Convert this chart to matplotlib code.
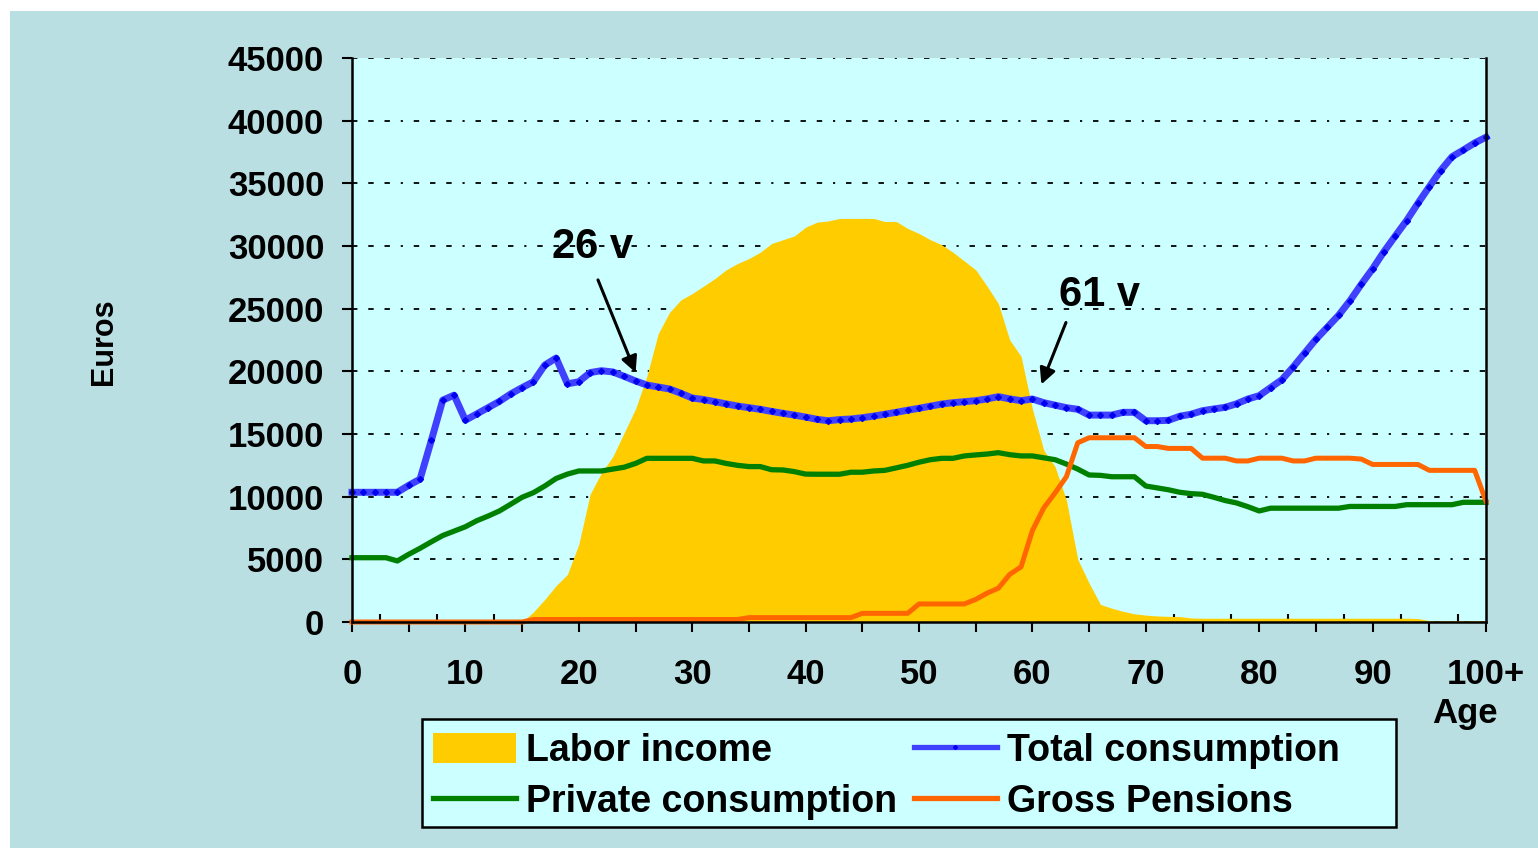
import matplotlib
matplotlib.use('Agg')
import matplotlib.pyplot as plt
import matplotlib.ticker as ticker
import numpy as np
from matplotlib.patches import Rectangle, Patch
from matplotlib.lines import Line2D

# age 0..100 (100 = "100+")
age = np.arange(101)

labor_income = [0, 0, 0, 0, 0, 0, 0, 0, 0, 0,
                0, 0, 0, 0, 0, 0, 800, 1800, 2900, 3800,
                6200, 10200, 11900, 13200, 15100, 17000, 19600, 23000, 24700, 25700,
                26200, 26800, 27400, 28100, 28600, 29000, 29500, 30200, 30500, 30800,
                31500, 31900, 32000, 32200, 32200, 32200, 32200, 31950, 31950, 31400,
                31000, 30500, 30100, 29500, 28800, 28100, 26800, 25400, 22500, 21200,
                17000, 13700, 12400, 9700, 5000, 3100, 1400, 1100, 850, 650,
                550, 480, 450, 430, 320, 300, 300, 300, 300, 300,
                300, 300, 300, 300, 300, 300, 300, 300, 300, 300,
                300, 300, 300, 300, 280, 100, 100, 100, 100, 100, 100]

private_cons = [5130, 5130, 5130, 5130, 4870, 5400, 5880, 6400, 6900, 7250,
                7600, 8080, 8450, 8860, 9400, 9950, 10320, 10850, 11450, 11800,
                12050, 12050, 12050, 12200, 12350, 12650, 13060, 13060, 13060, 13060,
                13060, 12850, 12850, 12650, 12500, 12400, 12400, 12150, 12130, 12000,
                11800, 11790, 11790, 11790, 11950, 11950, 12050, 12100, 12300, 12500,
                12750, 12950, 13060, 13060, 13250, 13330, 13400, 13510, 13350, 13250,
                13250, 13100, 12950, 12600, 12200, 11730, 11700, 11590, 11590, 11590,
                10850, 10700, 10550, 10350, 10240, 10190, 9950, 9690, 9500, 9200,
                8860, 9080, 9080, 9080, 9080, 9080, 9080, 9080, 9220, 9220,
                9220, 9220, 9220, 9360, 9360, 9360, 9360, 9360, 9550, 9550, 9550]

total_cons = [10350, 10350, 10350, 10350, 10350, 10900, 11400, 14500, 17700, 18100,
              16100, 16600, 17100, 17600, 18200, 18700, 19170, 20500, 21060, 19000,
              19170, 19900, 20050, 19950, 19600, 19230, 18910, 18750, 18590, 18250,
              17870, 17750, 17580, 17400, 17230, 17100, 16970, 16800, 16650, 16510,
              16350, 16170, 16060, 16150, 16200, 16300, 16430, 16580, 16730, 16900,
              17050, 17220, 17390, 17500, 17580, 17660, 17800, 17980, 17800, 17660,
              17790, 17500, 17300, 17100, 16970, 16510, 16510, 16510, 16730, 16730,
              16060, 16060, 16090, 16420, 16580, 16860, 17000, 17130, 17410, 17790,
              18060, 18700, 19330, 20350, 21450, 22550, 23510, 24470, 25630, 26940,
              28180, 29550, 30800, 32030, 33410, 34730, 36020, 37120, 37660, 38220, 38680]

gross_pensions = [0, 0, 0, 0, 0, 0, 0, 0, 0, 0,
                  0, 0, 0, 0, 0, 0, 200, 200, 200, 200,
                  200, 200, 200, 200, 200, 200, 200, 200, 200, 200,
                  200, 200, 200, 200, 200, 350, 350, 350, 350, 350,
                  350, 350, 350, 350, 350, 690, 690, 690, 690, 690,
                  1440, 1440, 1440, 1440, 1440, 1800, 2300, 2700, 3800, 4400,
                  7300, 9100, 10300, 11600, 14300, 14700, 14700, 14700, 14700, 14700,
                  14000, 14000, 13850, 13850, 13850, 13070, 13070, 13070, 12850, 12850,
                  13070, 13070, 13070, 12850, 12850, 13070, 13070, 13070, 13070, 13000,
                  12570, 12570, 12570, 12570, 12570, 12100, 12100, 12100, 12100, 12100, 9630]

xticklabels = ['0', '10', '20', '30', '40', '50', '60', '70', '80', '90', '100+']

W, H = 1538, 848
plt.rcParams['font.family'] = ['Liberation Sans', 'DejaVu Sans']
plt.rcParams['font.weight'] = 'bold'

fig = plt.figure(figsize=(W/100, H/100), dpi=100)
fig.patch.set_facecolor('white')
fig.add_artist(Rectangle((10/W, 0), 1, 1-11/H, transform=fig.transFigure,
                         facecolor='#badfe2', edgecolor='none', zorder=-5))

ax = fig.add_axes([352/W, 1-622/H, (1486-352)/W, (622-58)/H])
ax.set_facecolor('#ccffff')
ax.set_axisbelow(True)

ax.fill_between(age, labor_income, 0, color='#ffcc00', lw=0, zorder=1)
ax.plot(age, private_cons, color='#008000', lw=3.8, zorder=3, clip_on=False)
ax.plot(age, total_cons, color='#4040ff', lw=5, zorder=4, clip_on=False)
ax.plot(age, total_cons, color='#0000ee', lw=0, marker='D', markersize=3, zorder=5, clip_on=False)
ax.plot(age, gross_pensions, color='#ff6600', lw=3.6, zorder=6, clip_on=False)

ax.set_xlim(0, 100)
ax.set_ylim(0, 45000)

ax.yaxis.set_major_locator(ticker.MultipleLocator(5000))
ax.yaxis.grid(True, color='black', linestyle=(0, (3, 6, 3, 6, 3, 6, 1.2, 6)), lw=1.3)
ax.tick_params(axis='y', direction='out', length=7, width=1.5, labelsize=25, pad=13)

ax.xaxis.set_major_locator(ticker.MultipleLocator(5))
ax.xaxis.set_minor_locator(ticker.FixedLocator(np.arange(2.5, 100, 5)))
ax.xaxis.set_major_formatter(ticker.FuncFormatter(
    lambda v, p: xticklabels[int(round(v)) // 10] if int(round(v)) % 10 == 0 else ''))
ax.tick_params(axis='x', which='major', direction='out', length=7, width=1.5, labelsize=25, pad=19)
ax.tick_params(axis='x', which='minor', direction='in', length=6, width=1.5)

ax.spines['top'].set_visible(False)
for s in ['left', 'bottom', 'right']:
    ax.spines[s].set_linewidth(1.8)
    ax.spines[s].set_zorder(7)

# annotations
ax.text(21.2, 29900, '26 v', fontsize=30, ha='center', va='center', zorder=8)
ax.annotate('', xy=(25.1, 19700), xytext=(21.6, 27500),
            arrowprops=dict(arrowstyle='-|>', color='black', lw=2.2, mutation_scale=24), zorder=8)
ax.text(65.9, 26100, '61 v', fontsize=30, ha='center', va='center', zorder=8)
ax.annotate('', xy=(60.7, 18750), xytext=(63.05, 24100),
            arrowprops=dict(arrowstyle='-|>', color='black', lw=2.2, mutation_scale=24), zorder=8)

fig.text(104/W, 1-342/H, 'Euros', rotation=90, fontsize=22, ha='center', va='center')
fig.text(1465/W, 1-713/H, 'Age', fontsize=25, ha='center', va='center')

# legend box
fig.add_artist(Rectangle((422/W, 1-827/H), (1396-422)/W, (827-719)/H, transform=fig.transFigure,
                         facecolor='#ccffff', edgecolor='black', lw=1.8, zorder=9))
handles = [Patch(facecolor='#ffcc00', edgecolor='none'),
           Line2D([], [], color='#008000', lw=3.8),
           Line2D([], [], color='#4040ff', lw=3.8, marker='D', markersize=2, markerfacecolor='#0000ee',
                  markeredgecolor='#0000ee', markevery=[1]),
           Line2D([], [], color='#ff6600', lw=3.8)]
labels = ['Labor income', 'Private consumption', 'Total consumption', 'Gross Pensions']
leg = fig.legend(handles, labels, ncol=2, loc='upper left',
                 bbox_to_anchor=(424/W, 1-724/H), bbox_transform=fig.transFigure,
                 borderaxespad=0, fontsize=27, frameon=False,
                 handlelength=2.2, handleheight=0.85, handletextpad=0.27, columnspacing=0.45,
                 labelspacing=0.38, borderpad=0.25)
leg.set_zorder(10)

fig.savefig('out.png', dpi=100, facecolor=fig.get_facecolor())
